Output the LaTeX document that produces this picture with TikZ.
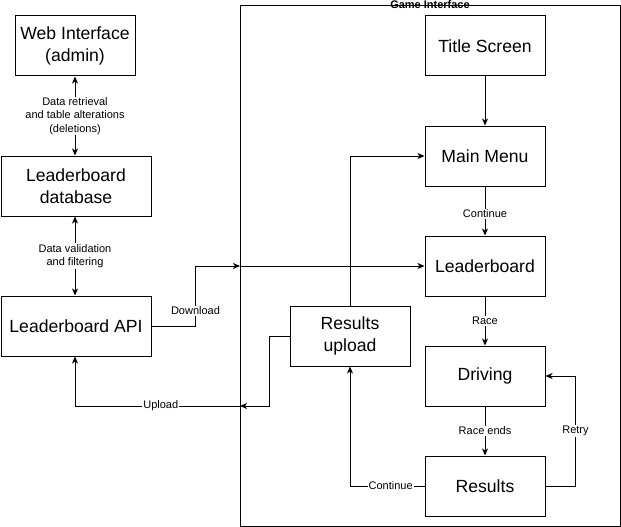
\documentclass[tikz,border=0pt]{standalone}
\usepackage{fontspec}
\setmainfont{Liberation Sans}
\usetikzlibrary{arrows.meta}
\tikzset{
  >={Stealth[length=7pt,width=6pt,inset=2pt]},
}
\tikzstyle{block}=[draw,line width=1pt,minimum width=120pt,minimum height=60pt,align=center,inner sep=2pt,font=\fontsize{17.6}{21.5}\selectfont]
\tikzstyle{wideblock}=[block,minimum width=150pt]
\tikzstyle{link}=[line width=1pt,->]
\tikzstyle{lbl}=[fill=white,inner sep=1pt,align=center,font=\fontsize{11}{13.3}\selectfont]

\begin{document}
\begin{tikzpicture}[x=1pt,y=-1pt]
    \useasboundingbox (0,0) rectangle (621,527);
    % game frame
    \draw[line width=1pt] (240,6) rectangle (620,526);
    \node[font=\bfseries\fontsize{11}{13}\selectfont] (gametitle) at (430,5) {Game Interface};
    % server side
    \node[block] (web) at (75,46) {Web Interface\\(admin)};
    \node[wideblock] (db) at (76,186) {Leaderboard\\database};
    \node[wideblock] (api) at (76,326) {Leaderboard API};
    % game side
    \node[block] (title) at (485,46) {Title Screen};
    \node[block] (mainmenu) at (485,156) {Main Menu};
    \node[block] (board) at (485,266) {Leaderboard};
    \node[block] (driving) at (485,376) {Driving};
    \node[block] (results) at (485,486) {Results};
    \node[block] (upload) at (350,336) {Results\\upload};
    \coordinate (dlin) at (240,266);
    \coordinate (upin) at (240,406);
    % connectors
    \draw[link,<->] (web.south) -- node[lbl]{Data retrieval\\and table alterations\\(deletions)} (web.south |- db.north);
    \draw[link,<->] (web.south |- db.south) -- node[lbl]{Data validation\\and filtering} (web.south |- api.north);
    \draw[link] (api.east) -- ++(44,0) |- node[lbl,pos=0.125]{Download} (dlin);
    \draw[link] (dlin) -- (board);
    \draw[link] (upload.north) |- (mainmenu.west);
    \draw[link] (upload.west) -- ++(-20,0) |- (upin);
    \draw[link] (upin) -| node[lbl,pos=0.24]{Upload} (web.south |- api.south);
    \draw[link] (title) -- (mainmenu);
    \draw[link] (mainmenu) -- node[lbl,pos=0.56]{Continue} (board);
    \draw[link] (board) -- node[lbl]{Race} (driving);
    \draw[link] (driving) -- node[lbl]{Race ends} (results);
    \draw[link] (results.east) -- ++(30,0) |- node[lbl,pos=0.25]{Retry} (driving.east);
    \draw[link] (results.west) -| node[lbl,pos=0.227]{Continue} (upload.south);
\end{tikzpicture}
\end{document}
